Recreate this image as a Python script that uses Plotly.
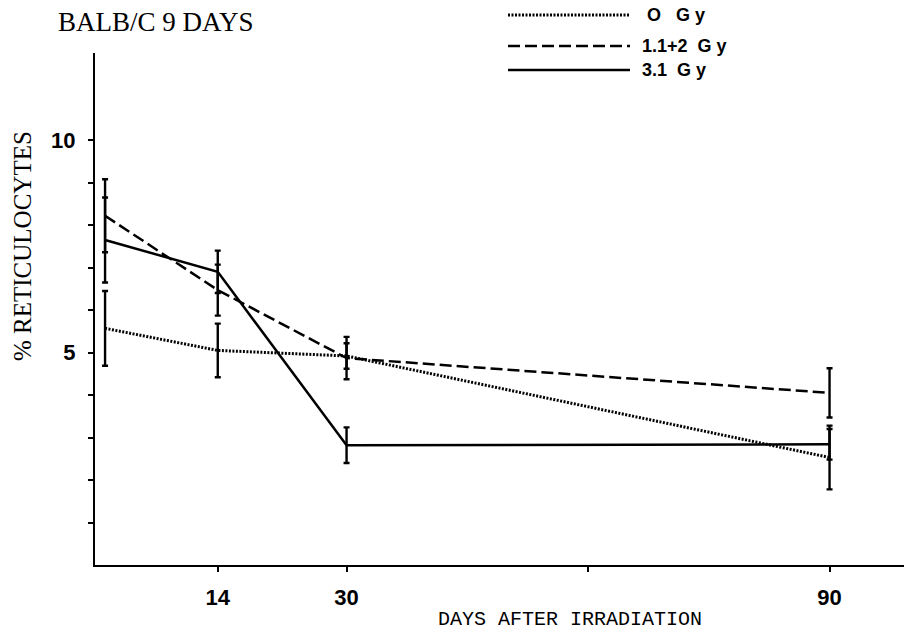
import plotly.graph_objects as go

# Sampling days after irradiation
days = [0, 14, 30, 90]

# % reticulocytes (mean and error) per dose group
dose_labels = ["O\u00a0\u00a0\u00a0G\u00a0y", "1.1+2\u00a0\u00a0G\u00a0y", "3.1\u00a0\u00a0G\u00a0y"]
retic_0gy = [5.57, 5.05, 4.92, 2.53]
err_0gy = [0.88, 0.63, 0.30, 0.75]
retic_1_1_2gy = [8.22, 6.47, 4.87, 4.05]
err_1_1_2gy = [0.86, 0.60, 0.50, 0.58]
retic_3_1gy = [7.65, 6.90, 2.82, 2.84]
err_3_1gy = [1.00, 0.50, 0.42, 0.36]

x_tick_vals = [14, 30, 60, 90]
x_tick_text = ["14", "30", "", "90"]
y_tick_vals = [1, 2, 3, 4, 5, 6, 7, 8, 9, 10]
y_tick_text = ["", "", "", "", "5", "", "", "", "", "10"]

series = [
    (retic_0gy, err_0gy, "2px,1.5px", 3.0),
    (retic_1_1_2gy, err_1_1_2gy, "12px,5px", 2.5),
    (retic_3_1gy, err_3_1gy, "solid", 2.5),
]

fig = go.Figure()
for vals, errs, dash, w in series:
    fig.add_trace(go.Scatter(
        x=days, y=vals, mode="lines",
        line=dict(color="black", width=w, dash=dash),
        error_y=dict(type="data", array=errs, visible=True,
                     color="black", thickness=2.4, width=3),
        showlegend=False, cliponaxis=False,
    ))

# Plot area in pixels: x 95..904, y 53..565
L, R, T, B = 95, 904, 53, 565
W, H = R - L, B - T


def px(x):
    return (x - L) / W


def py(y):
    return (B - y) / H


# Hand-drawn style key in the upper right
key_rows = [15, 46, 70]
key_text_x = [645, 640, 640]
for (vals, errs, dash, w), label, ry, tx in zip(series, dose_labels, key_rows, key_text_x):
    fig.add_shape(type="line", xref="paper", yref="paper",
                  x0=px(508), x1=px(630), y0=py(ry), y1=py(ry),
                  line=dict(color="black", width=w, dash=dash))
    fig.add_annotation(xref="paper", yref="paper", x=px(tx), y=py(ry),
                       xanchor="left", yanchor="middle", showarrow=False,
                       text="<b>" + label + "</b>",
                       font=dict(family="Liberation Sans", size=18, color="black"))

fig.add_annotation(xref="paper", yref="paper", x=px(56), y=py(22),
                   xanchor="left", yanchor="middle", showarrow=False,
                   text="BALB/C 9 DAYS",
                   font=dict(family="Liberation Serif", size=27, color="black"))

fig.add_annotation(xref="paper", yref="paper", x=px(22), y=py(246),
                   xanchor="center", yanchor="middle", showarrow=False,
                   textangle=-90, text="% RETICULOCYTES",
                   font=dict(family="Liberation Serif", size=25, color="black"))

fig.add_annotation(xref="paper", yref="paper", x=px(570), y=py(619),
                   xanchor="center", yanchor="middle", showarrow=False,
                   text="DAYS AFTER IRRADIATION",
                   font=dict(family="Liberation Mono", size=20, color="black"))

tick_font = dict(family="Liberation Sans", size=22, color="black", weight="bold")

fig.update_layout(
    width=904, height=632,
    margin=dict(l=L, r=904 - R, t=T, b=632 - B),
    paper_bgcolor="white", plot_bgcolor="white",
    xaxis=dict(range=[-1.25, 99.25], showgrid=False, zeroline=False,
               showline=True, linecolor="black", linewidth=2,
               ticks="outside", ticklen=5, tickwidth=2, tickcolor="black",
               tickvals=x_tick_vals, ticktext=x_tick_text,
               ticklabelstandoff=7, tickfont=tick_font),
    yaxis=dict(range=[0, 12.05], showgrid=False, zeroline=False,
               showline=True, linecolor="black", linewidth=2,
               ticks="outside", ticklen=5, tickwidth=2, tickcolor="black",
               tickvals=y_tick_vals, ticktext=y_tick_text,
               ticklabelstandoff=8, tickfont=tick_font),
)

fig.write_html("out.html")
